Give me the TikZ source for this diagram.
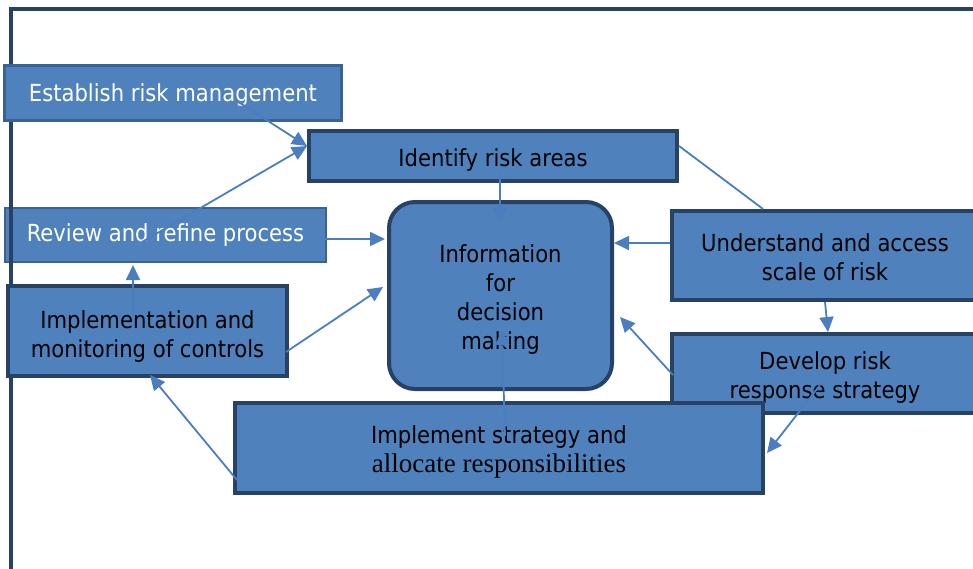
\documentclass[tikz,border=0pt]{standalone}
\usepackage{fontspec}
\setmainfont{DejaVu Sans Condensed}
\newfontfamily\serifpart{Liberation Serif}
\usepackage{tikz}
\usetikzlibrary{arrows.meta}
\definecolor{BoxFill}{RGB}{79,129,189}
\definecolor{BoxLine}{RGB}{40,66,102}
\definecolor{SoftLine}{RGB}{58,98,148}
\definecolor{FlowLine}{RGB}{74,126,193}
% first-line strut, pushes the text block down
\newcommand{\lift}[1]{\rule{0pt}{#1}}

\begin{document}
\begin{tikzpicture}[x=1pt, y=-1pt,
    box/.style={draw=BoxLine, fill=BoxFill, line width=4pt, inner sep=0pt, align=center,
                font=\fontsize{23.5pt}{29pt}\selectfont},
    softbox/.style={box, draw=SoftLine, text=white},
    flow/.style={draw=FlowLine, line width=1.8pt},
    >={Triangle[length=15pt,width=14pt]}]
    \useasboundingbox (0,0) rectangle (973,568);

    \node[softbox, line width=2pt, minimum width=321pt, minimum height=54pt] (review)     at (165.5,235)   {Review and refine process};
    % frame
    \draw[BoxLine, line width=4pt] (11,570) -- (11,8.5) -- (980,8.5);
    \node[softbox, line width=3pt, minimum width=337pt, minimum height=55pt] (establish)  at (173,93)      {\lift{22pt}Establish risk management};
    \node[box,                     minimum width=368pt, minimum height=50pt] (identify)   at (493,156)     {\lift{26pt}Identify risk areas};
    \node[box, rounded corners=26pt, minimum width=223pt, minimum height=187pt] (info)    at (500.5,295.5) {\lift{26pt}Information\\for\\decision\\making};
    \node[box,                     minimum width=306pt, minimum height=89pt] (understand) at (825,255.5)   {\lift{22pt}Understand and access\\scale of risk};
    \node[box,                     minimum width=306pt, minimum height=79pt] (develop)    at (825,373.5)   {\lift{26pt}Develop risk\\response strategy};
    \node[box,                     minimum width=279pt, minimum height=90pt] (implmon)    at (147.5,331)   {\lift{28pt}Implementation and\\monitoring of controls};
    \node[box,                     minimum width=528pt, minimum height=90pt] (implement)  at (499,448)     {\lift{26pt}Implement strategy and\\{\serifpart\fontsize{27pt}{29pt}\selectfont allocate responsibilities}};

    \draw[flow,->] ([shift={(67,10)}]establish.center) -- ([shift={(0,-10)}]identify.west);
    \draw[flow,->] ([shift={(-23.5,7)}]review.center)  -- ([shift={(0,-10)}]identify.west);
    \draw[flow,->] ([shift={(7,16)}]identify.center)   -- ([shift={(-0.5,23)}]info.north);
    \draw[flow]    ([shift={(0,-10)}]identify.east)    -- ([shift={(-62,0)}]understand.north);
    \draw[flow,->] ([shift={(0,-12.5)}]understand.west) -- ([shift={(0,-12.5)}]understand.west -| info.east);
    \draw[flow,->] (understand.south) -- ([shift={(3,0)}]develop.north);
    \draw[flow,->] ([shift={(3,1.5)}]develop.west)     -- ([shift={(6,21.5)}]info.east);
    \draw[flow,->] ([shift={(-5,11.5)}]develop.center) -- ([shift={(2,5)}]implement.east);
    \draw[flow,->] ([shift={(6,-12)}]implement.center) -- ([shift={(1.5,34.5)}]info.center);
    \draw[flow,->] ([shift={(4,32)}]implement.west)    -- ([shift={(2.5,-3)}]implmon.south);
    \draw[flow,->] ([shift={(-14.5,-14)}]implmon.center) -- ([shift={(-32.5,2)}]review.south);
    \draw[flow,->] ([shift={(-3,21)}]implmon.east)     -- ([shift={(-4,-8.5)}]info.west);
    \draw[flow,->] ([shift={(-2,4)}]review.east)       -- ([shift={(-2,4)}]review.east -| info.west);
  \end{tikzpicture}
\end{document}
